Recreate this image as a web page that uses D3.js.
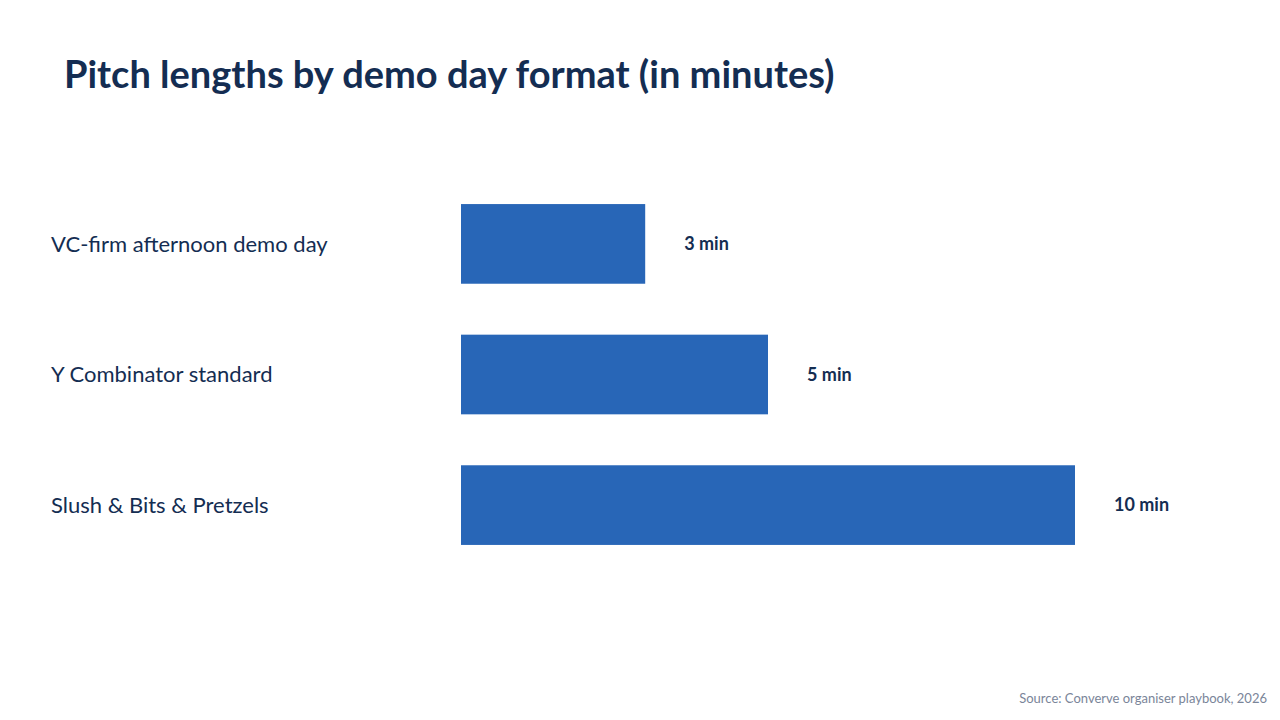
<!DOCTYPE html>
<html>
<head>
<meta charset="utf-8">
<script src="https://cdn.jsdelivr.net/npm/d3@7"></script>
<style>
body{margin:0;background:#fff;}
svg{display:block;font-family:Lato,"Open Sans",sans-serif;}
</style>
</head>
<body>
<svg id="chart" width="1280" height="720"></svg>
<script>
// data
var categories = ["VC-firm afternoon demo day","Y Combinator standard","Slush & Bits & Pretzels"];
var minutes = [3,5,10];
var valueLabels = ["3 min","5 min","10 min"];

var svg = d3.select("#chart");
var navy = "#142d52";

var x = d3.scaleLinear().domain([0,10]).range([461,1075]);
var y = d3.scaleBand().domain(categories).range([178.6,570.4]).paddingInner(0.39).paddingOuter(0.195);

svg.append("text")
    .attr("x",64).attr("y",88)
    .attr("fill",navy)
    .attr("font-size",38).attr("font-weight",700)
    .text("Pitch lengths by demo day format (in minutes)");

var rows = svg.selectAll("g.row").data(categories).enter().append("g").attr("class","row");

rows.append("rect")
    .attr("x",x(0))
    .attr("y",d=>y(d))
    .attr("width",(d,i)=>x(minutes[i])-x(0))
    .attr("height",y.bandwidth())
    .attr("fill","#2866b7");

rows.append("text")
    .attr("x",51)
    .attr("y",d=>y(d)+y.bandwidth()/2)
    .attr("dy","0.35em")
    .attr("fill",navy)
    .attr("font-size",22)
    .text(d=>d);

rows.append("text")
    .attr("x",(d,i)=>x(minutes[i])+39)
    .attr("y",d=>y(d)+y.bandwidth()/2)
    .attr("dy","0.35em")
    .attr("fill",navy)
    .attr("font-size",18).attr("font-weight",700)
    .text((d,i)=>valueLabels[i]);

svg.append("text")
    .attr("x",1267).attr("y",703)
    .attr("text-anchor","end")
    .attr("fill","#7a8599")
    .attr("font-size",13)
    .text("Source: Converve organiser playbook, 2026");
</script>
</body>
</html>
